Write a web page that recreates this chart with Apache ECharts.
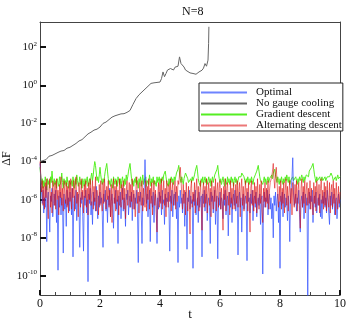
<!DOCTYPE html>
<html>
<head>
<meta charset="utf-8">
<script src="https://cdn.jsdelivr.net/npm/echarts@6/dist/echarts.min.js"></script>
<style>
  html, body { margin: 0; padding: 0; background: #fff; }
  #chart { width: 346px; height: 320px; }
</style>
</head>
<body>
<div id="chart"></div>
<script>
// values are log10(ΔF)
var dt = 0.025;
var yTicks = [-10, -8, -6, -4, -2, 0, 2];

// No gauge cooling: [t, log10 ΔF]
var grayPoints = [
    [0, -4.0], [0.1, -3.95], [0.2, -3.9], [0.3, -3.72], [0.4, -3.68], [0.5, -3.6], [0.6, -3.52],
    [0.7, -3.45], [0.8, -3.42], [0.9, -3.3], [1.0, -3.25], [1.1, -3.15], [1.2, -3.05], [1.3, -2.92],
    [1.4, -2.85], [1.5, -2.7], [1.6, -2.55], [1.7, -2.46], [1.8, -2.35], [1.9, -2.3], [2.0, -2.19],
    [2.1, -2.0], [2.2, -1.93], [2.3, -1.8], [2.4, -1.67], [2.5, -1.6], [2.6, -1.55], [2.7, -1.5],
    [2.8, -1.49], [2.9, -1.42], [3.0, -1.32], [3.1, -1.0], [3.2, -0.7], [3.3, -0.5], [3.4, -0.35],
    [3.5, -0.2], [3.6, -0.05], [3.7, 0.1], [3.8, 0.13], [3.9, 0.15], [4.0, 0.17], [4.05, 0.35],
    [4.1, 0.7], [4.15, 0.45], [4.2, 0.62], [4.25, 0.8], [4.3, 0.7], [4.35, 0.88], [4.4, 0.78],
    [4.45, 0.8], [4.5, 0.95], [4.55, 1.05], [4.6, 1.0], [4.65, 1.49], [4.7, 1.14], [4.75, 1.05],
    [4.8, 0.96], [4.85, 0.8], [4.9, 0.7], [5.0, 0.65], [5.1, 0.62], [5.2, 0.58], [5.3, 0.7],
    [5.35, 0.65], [5.4, 0.79], [5.45, 0.9], [5.5, 1.14], [5.55, 1.0], [5.6, 1.32], [5.62, 2.2], [5.63, 3.07]
];

// Optimal, one value every dt
var optimal = [
    -4.1, -4.8, -5.6, -6.2, -5.5, -6.7, -5.9, -6.4, -5.3, -8.2, -6.0, -5.6, -6.5, -7.7, -5.8, -6.1, -5.4, -6.9, -6.2, -5.7,
    -6.3, -5.5, -7.2, -6.0, -9.7, -5.8, -6.4, -5.6, -6.8, -5.9, -6.2, -8.8, -5.7, -6.5, -6.0, -7.4, -5.5, -6.3, -5.9, -6.6,
    -5.6, -6.1, -6.8, -5.4, -9.0, -6.2, -5.8, -6.5, -5.5, -7.1, -6.0, -5.7, -6.4, -8.5, -5.9, -6.2, -5.6, -6.9, -8.7, -5.8,
    -6.3, -5.5, -6.7, -6.0, -10.3, -5.7, -6.2, -5.4, -6.8, -6.1, -7.3, -5.6, -6.3, -5.9, -6.6, -5.3, -6.0, -7.0, -5.8, -6.4,
    -5.6, -6.2, -5.9, -6.7, -8.5, -5.7, -6.1, -5.5, -6.6, -6.0, -7.2, -5.8, -6.3, -5.4, -6.9, -6.1, -5.7, -6.4, -7.5, -5.9,
    -6.2, -5.5, -6.5, -6.0, -8.3, -5.8, -6.3, -5.6, -7.0, -6.1, -5.4, -6.6, -5.9, -6.2, -7.4, -5.7, -6.0, -5.5, -6.8, -6.1,
    -5.8, -6.4, -5.6, -7.1, -6.0, -5.7, -6.5, -5.9, -6.2, -5.5, -6.8, -9.3, -5.8, -6.1, -5.6, -6.7, -8.3, -5.9, -6.3, -5.4,
    -3.9, -5.2, -6.2, -5.7, -6.9, -6.0, -5.5, -8.2, -6.1, -5.8, -6.4, -5.6, -7.2, -6.0, -5.7, -6.3, -8.3, -5.9, -6.5, -5.6,
    -6.1, -5.8, -6.8, -5.5, -6.2, -6.0, -7.3, -5.7, -6.4, -5.9, -6.1, -5.6, -6.6, -8.7, -5.8, -6.2, -5.5, -6.9, -6.0, -5.7,
    -6.3, -5.6, -7.0, -6.1, -9.3, -5.8, -6.4, -5.5, -6.2, -5.9, -6.7, -5.7, -6.0, -7.4, -5.6, -6.3, -8.6, -5.9, -6.1, -5.5,
    -6.5, -5.8, -6.2, -6.0, -9.6, -5.7, -6.3, -5.5, -6.8, -6.1, -5.9, -7.2, -5.6, -6.4, -6.0, -5.8, -9.0, -5.7, -6.2, -5.5,
    -6.6, -6.0, -5.7, -7.1, -6.2, -5.9, -6.4, -8.3, -5.6, -6.1, -5.8, -6.7, -6.0, -5.5, -7.3, -6.2, -5.8, -9.1, -5.9, -6.3,
    -5.6, -6.5, -5.9, -6.1, -7.0, -5.7, -6.3, -5.5, -6.8, -6.0, -5.8, -7.9, -6.2, -5.6, -6.4, -5.9, -7.2, -6.1, -5.7, -6.3,
    -5.5, -6.6, -6.0, -5.8, -8.9, -6.2, -5.6, -6.4, -5.9, -7.7, -6.1, -5.7, -6.5, -6.0, -5.8, -6.3, -9.2, -5.6, -6.1, -5.9,
    -6.7, -5.7, -6.2, -5.5, -7.1, -6.0, -5.8, -6.4, -5.6, -6.9, -6.1, -5.9, -6.3, -5.7, -7.3, -6.0, -5.8, -9.9, -6.2, -5.6,
    -6.4, -5.9, -6.1, -5.5, -6.8, -6.0, -5.7, -6.5, -5.9, -7.0, -6.2, -8.0, -5.8, -6.3, -5.6, -6.6, -6.0, -5.7, -7.2, -6.1,
    -9.6, -5.8, -6.3, -5.6, -6.9, -6.0, -5.7, -6.4, -5.9, -6.2, -7.1, -5.8, -6.1, -8.2, -5.9, -5.4, -4.8, -3.8, -5.6, -6.3,
    -6.0, -5.7, -6.6, -5.9, -6.2, -5.5, -6.8, -7.7, -6.1, -5.8, -6.4, -5.6, -7.0, -6.0, -5.7, -6.3, -5.9, -11.3, -6.2, -5.6,
    -6.5, -5.8, -6.1, -5.5, -7.2, -6.0, -5.8, -6.4, -5.6, -6.7, -6.1, -5.9, -6.3, -5.7, -6.9, -6.0, -7.0, -5.8, -6.2, -5.6,
    -6.4, -5.9, -6.7, -5.5, -6.1, -6.0, -7.3, -5.8, -6.3, -5.6, -6.5, -6.0, -5.7, -6.8, -6.1, -5.9, -7.0, -6.2, -5.7, -6.4,
    -6.0
];

// Gradient descent
var gradient = [
    -4.3, -4.8, -5.2, -4.9, -5.4, -5.0, -5.3, -4.8, -5.1, -5.5, -4.9, -5.2, -5.0, -5.4, -4.8, -5.1, -4.5, -5.0, -5.3, -4.9,
    -5.2, -5.0, -5.4, -4.9, -5.1, -5.3, -4.8, -5.2, -5.0, -4.6, -5.1, -5.4, -4.9, -5.2, -5.0, -5.3, -4.8, -5.1, -5.4, -5.0,
    -4.9, -5.2, -5.0, -5.3, -4.8, -5.1, -5.4, -4.9, -5.2, -4.7, -5.0, -5.3, -5.1, -4.8, -5.2, -5.0, -5.4, -4.9, -5.1, -5.3,
    -4.9, -5.2, -5.0, -4.8, -5.3, -5.1, -4.9, -5.2, -4.8, -4.6, -5.0, -4.7, -4.3, -4.0, -4.2, -4.6, -5.0, -4.8, -5.1, -4.7,
    -4.3, -4.7, -5.0, -5.2, -4.9, -5.1, -4.8, -4.5, -4.3, -4.1, -4.5, -4.9, -5.2, -5.0, -5.3, -4.9, -5.1, -5.4, -4.8, -5.0,
    -5.2, -4.9, -5.1, -5.3, -4.8, -5.0, -5.2, -4.9, -5.4, -5.0, -4.8, -5.1, -5.3, -4.9, -5.2, -4.7, -5.0, -4.8, -4.5, -4.4,
    -4.1, -4.5, -4.9, -5.2, -5.0, -5.3, -4.9, -5.1, -4.8, -5.2, -5.0, -5.4, -4.9, -5.1, -4.8, -5.3, -5.0, -4.7, -5.2, -4.9,
    -5.1, -4.8, -5.3, -5.0, -4.9, -5.2, -4.7, -5.0, -5.3, -4.9, -5.1, -4.8, -5.2, -5.0, -4.9, -5.3, -4.8, -5.1, -5.0, -4.8,
    -5.2, -4.9, -5.1, -4.8, -5.0, -4.7, -4.6, -4.5, -4.8, -5.1, -5.0, -5.3, -4.9, -5.2, -5.0, -4.8, -5.1, -4.9, -5.2, -4.8,
    -5.0, -4.8, -4.6, -4.5, -4.4, -4.2, -4.6, -4.9, -5.1, -4.8, -5.0, -5.2, -4.9, -4.8, -4.6, -4.7, -4.5, -4.9, -5.1, -5.0,
    -5.2, -4.9, -5.1, -4.8, -5.0, -4.9, -4.7, -4.5, -4.4, -4.2, -4.5, -4.9, -5.1, -5.0, -5.3, -4.9, -5.1, -4.8, -5.2, -5.0,
    -4.8, -5.1, -4.9, -5.2, -5.0, -4.8, -5.1, -4.9, -5.3, -5.0, -4.8, -5.1, -4.9, -4.7, -4.8, -4.6, -4.4, -4.2, -4.6, -4.9,
    -5.1, -4.9, -5.2, -5.0, -4.8, -5.1, -5.3, -4.9, -5.0, -5.2, -4.8, -5.1, -4.9, -5.2, -5.0, -4.8, -5.1, -4.9, -5.3, -5.0,
    -4.8, -5.1, -4.9, -5.2, -5.0, -4.8, -4.9, -4.7, -4.8, -4.6, -4.7, -4.5, -4.8, -5.0, -5.2, -4.9, -5.1, -4.8, -5.0, -5.2,
    -4.9, -5.1, -4.8, -5.0, -5.2, -4.9, -4.8, -4.7, -4.6, -4.5, -4.4, -4.2, -4.5, -4.8, -5.0, -5.1, -4.9, -5.2, -5.0, -4.8,
    -5.1, -4.9, -5.2, -5.0, -4.8, -5.1, -4.9, -5.0, -4.8, -4.7, -4.9, -4.6, -4.5, -4.4, -4.7, -4.9, -5.1, -4.8, -5.0, -5.2,
    -4.9, -5.1, -4.8, -5.0, -5.2, -4.9, -5.1, -4.8, -5.0, -4.7, -4.9, -5.1, -4.8, -5.2, -5.0, -4.9, -5.1, -4.8, -5.0, -4.9,
    -5.1, -4.8, -5.0, -5.2, -4.9, -5.1, -4.8, -5.0, -4.9, -4.7, -4.9, -5.1, -4.8, -5.0, -4.9, -4.7, -4.8, -4.6, -4.8, -4.5,
    -4.6, -4.4, -4.3, -4.2, -4.1, -4.4, -4.7, -4.9, -5.1, -4.8, -5.0, -4.9, -5.1, -4.8, -5.0, -4.9, -4.8, -5.0, -4.9, -5.1,
    -4.8, -5.0, -4.9, -4.8, -4.7, -4.9, -4.8, -4.7, -4.6, -4.6, -4.8, -5.0, -4.9, -5.1, -4.8, -5.0, -4.9, -4.7, -4.9, -5.0,
    -4.8
];

// Alternating descent
var alternating = [
    -4.0, -4.7, -5.6, -5.0, -6.3, -5.3, -6.5, -5.1, -5.9, -4.9, -6.2, -7.0, -5.4, -4.9, -6.4, -5.6, -6.7, -5.0, -5.8, -6.3,
    -5.1, -6.5, -4.9, -6.0, -5.5, -6.8, -5.2, -5.9, -4.8, -6.3, -5.4, -6.6, -5.0, -5.7, -6.2, -5.1, -6.4, -5.3, -6.7, -5.0,
    -6.1, -4.9, -6.5, -5.4, -5.9, -5.0, -6.6, -5.3, -4.8, -6.2, -5.6, -6.9, -5.1, -5.8, -6.4, -4.9, -6.0, -5.5, -6.7, -5.2,
    -5.9, -5.0, -6.4, -5.4, -6.8, -5.1, -6.0, -4.9, -6.3, -5.6, -5.0, -6.5, -5.3, -6.1, -4.8, -6.6, -5.5, -5.9, -6.8, -5.2,
    -6.3, -5.0, -5.8, -6.6, -5.1, -6.2, -4.9, -5.7, -6.5, -5.3, -6.0, -5.0, -6.4, -5.5, -6.9, -5.2, -7.2, -5.6, -4.9, -6.2,
    -5.3, -6.6, -5.0, -6.1, -5.5, -6.8, -4.9, -5.9, -6.4, -5.2, -6.0, -5.0, -6.5, -5.4, -7.0, -5.6, -5.0, -6.3, -5.8, -5.1,
    -6.4, -5.2, -6.1, -4.9, -6.5, -5.5, -5.9, -6.9, -5.3, -4.8, -6.2, -5.6, -6.7, -5.1, -5.8, -6.3, -5.0, -6.6, -5.4, -5.9,
    -6.4, -5.0, -6.6, -5.3, -6.0, -4.9, -6.5, -5.4, -6.2, -5.1, -6.8, -5.6, -5.0, -6.3, -5.5, -6.7, -7.7, -5.9, -5.1, -6.4,
    -5.2, -6.2, -4.9, -6.5, -5.6, -5.0, -6.3, -5.4, -6.9, -5.0, -5.8, -6.4, -5.2, -6.1, -4.9, -6.6, -5.5, -5.1, -6.3, -5.7,
    -5.0, -6.5, -5.3, -6.1, -5.0, -5.2, -4.7, -4.3, -4.9, -5.8, -6.5, -5.2, -6.2, -5.5, -6.8, -5.1, -5.9, -6.6, -5.3, -6.2,
    -7.8, -5.4, -5.0, -6.4, -5.6, -6.1, -5.1, -6.7, -5.4, -4.9, -6.3, -5.3, -6.6, -5.7, -5.0, -6.2, -7.6, -5.5, -5.1, -6.4,
    -5.3, -6.2, -4.9, -6.7, -5.6, -5.1, -6.3, -5.4, -6.9, -5.0, -5.8, -6.5, -5.3, -6.1, -4.9, -6.6, -5.5, -5.1, -6.4, -5.4,
    -5.0, -6.5, -5.4, -6.2, -7.6, -5.3, -6.0, -4.9, -6.6, -5.4, -5.1, -6.3, -5.6, -6.8, -5.0, -6.2, -5.4, -6.5, -5.1, -5.9,
    -6.5, -5.2, -6.2, -5.0, -6.4, -5.5, -5.1, -6.9, -5.4, -4.9, -6.3, -5.3, -6.6, -5.6, -5.0, -6.2, -5.4, -6.6, -5.1, -6.2,
    -7.7, -5.4, -5.0, -6.3, -5.5, -6.6, -5.1, -6.2, -5.3, -6.7, -4.9, -5.9, -6.5, -5.2, -6.2, -5.0, -6.6, -7.2, -5.4, -6.1,
    -5.1, -6.4, -5.4, -6.2, -5.0, -6.5, -5.5, -5.1, -5.0, -4.8, -4.5, -4.1, -4.9, -5.4, -4.7, -4.3, -5.0, -5.8, -6.4, -5.3,
    -6.1, -5.0, -6.5, -5.4, -6.2, -5.1, -6.7, -5.5, -4.9, -6.3, -5.3, -6.6, -5.6, -5.0, -6.2, -5.4, -6.8, -5.1, -5.7, -6.4,
    -5.2, -6.2, -5.0, -6.6, -5.5, -5.1, -6.3, -7.5, -5.4, -4.9, -6.4, -5.3, -6.2, -5.0, -6.7, -5.5, -5.1, -6.3, -5.4, -6.2,
    -5.0, -6.5, -5.4, -6.1, -6.8, -5.1, -6.2, -5.3, -6.6, -5.0, -5.6, -6.3, -5.2, -6.7, -5.4, -4.9, -6.2, -5.5, -6.5, -5.1,
    -6.3, -5.3, -6.6, -5.0, -5.9, -6.4, -5.1, -6.7, -5.5, -5.2, -6.4, -5.0, -6.2, -5.4, -6.8, -5.1, -5.8, -6.5, -5.3, -6.2,
    -5.6
];

function withTime(arr) {
    return arr.map(function (v, i) { return [+(i * dt).toFixed(3), v]; });
}

var serif = '"Liberation Serif", "DejaVu Serif", serif';
var chart = echarts.init(document.getElementById('chart'));

var frameLine = { show: true, onZero: false, lineStyle: { color: '#444', width: 1 } };

var option = {
    animation: false,
    title: {
        text: 'N=8',
        left: 177,
        top: 1,
        textStyle: { fontFamily: serif, fontSize: 12, fontWeight: 'normal', color: '#111' }
    },
    legend: {
        orient: 'vertical',
        left: 199,
        top: 83,
        selectedMode: false,
        backgroundColor: '#fff',
        borderColor: '#222',
        borderWidth: 1,
        padding: [4, 1, 0, 1],
        itemGap: 0,
        itemWidth: 46,
        itemHeight: 10,
        itemStyle: { opacity: 0 },
        data: ['Optimal', 'No gauge cooling', 'Gradient descent', 'Alternating descent'],
        textStyle: { fontFamily: serif, fontSize: 11, lineHeight: 10, color: '#111', padding: [0, 0, 0, 4] }
    },
    grid: { left: 40, right: 6, top: 22, bottom: 25, containLabel: false, outerBoundsMode: 'none' },
    xAxis: [{
        type: 'value',
        min: 0,
        max: 10,
        interval: 2,
        name: 't',
        nameLocation: 'middle',
        nameGap: 13,
        nameMoveOverlap: false,
        nameTextStyle: { fontFamily: serif, fontSize: 13, color: '#111' },
        axisLine: frameLine,
        axisTick: { inside: true, length: 5, lineStyle: { color: '#111', width: 2 } },
        minorTick: { show: true, splitNumber: 4, length: 3, lineStyle: { color: '#444', width: 1 } },
        axisLabel: { fontFamily: serif, fontSize: 12, color: '#111', margin: 3 },
        splitLine: { show: false }
    }, {
        type: 'value', position: 'top', min: 0, max: 10,
        axisLine: frameLine,
        axisTick: { show: false }, axisLabel: { show: false }, splitLine: { show: false }
    }],
    yAxis: [{
        type: 'value',
        min: -11,
        max: 3.32,
        name: 'ΔF',
        nameLocation: 'middle',
        nameGap: 27,
        nameMoveOverlap: false,
        nameTextStyle: { fontFamily: serif, fontSize: 12, color: '#111' },
        axisLine: frameLine,
        axisTick: { inside: true, length: 6, customValues: yTicks, lineStyle: { color: '#111', width: 2 } },
        axisLabel: {
            customValues: yTicks,
            margin: 3,
            formatter: function (v) { return '{b|10}{s|' + v + '}'; },
            rich: {
                b: { fontFamily: serif, fontSize: 11, color: '#111' },
                s: { fontFamily: serif, fontSize: 7, color: '#111', padding: [0, 0, 7, 0] }
            }
        },
        splitLine: { show: false }
    }, {
        type: 'value', position: 'right', min: -11, max: 3.32,
        axisLine: frameLine,
        axisTick: { show: false }, axisLabel: { show: false }, splitLine: { show: false }
    }],
    series: [
        {
            name: 'No gauge cooling',
            type: 'line',
            symbol: 'none',
            data: grayPoints,
            lineStyle: { color: '#666', width: 1 },
            itemStyle: { color: '#666' }
        },
        {
            name: 'Gradient descent',
            type: 'line',
            symbol: 'none',
            data: withTime(gradient),
            lineStyle: { color: '#55ee22', width: 1 },
            itemStyle: { color: '#55ee22' }
        },
        {
            name: 'Optimal',
            type: 'line',
            symbol: 'none',
            data: withTime(optimal),
            lineStyle: { color: '#3050ff', width: 1, opacity: 0.7 },
            itemStyle: { color: '#3050ff' }
        },
        {
            name: 'Alternating descent',
            type: 'line',
            symbol: 'none',
            data: withTime(alternating),
            lineStyle: { color: '#dd0808', width: 1, opacity: 0.55 },
            itemStyle: { color: '#dd0808' }
        }
    ]
};

chart.setOption(option);
</script>
</body>
</html>
